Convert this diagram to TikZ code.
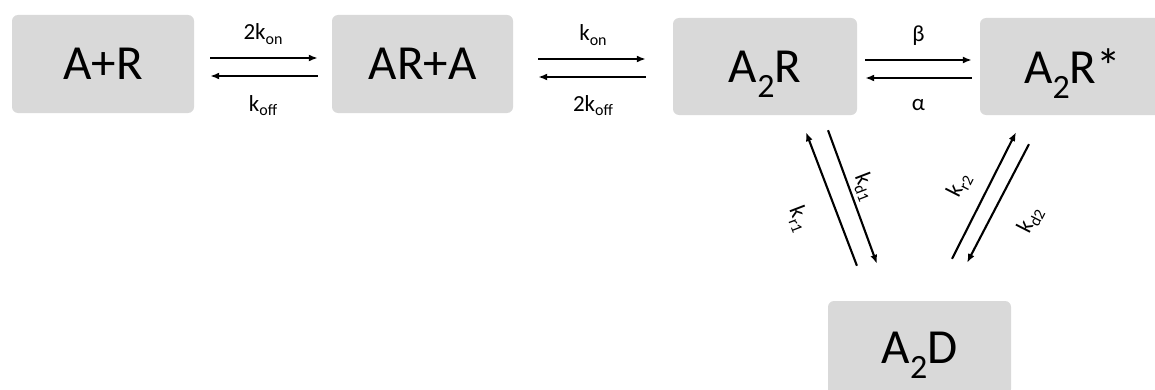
\documentclass[tikz,border=0pt]{standalone}
\usepackage{fontspec}
\setmainfont{Carlito}
\usetikzlibrary{arrows.meta}
\definecolor{boxgray}{HTML}{D9D9D9}
\newcommand{\bigsub}[1]{\raisebox{-15pt}[0pt][0pt]{\fontsize{34}{34}\selectfont #1}}
\newcommand{\lsub}[1]{\raisebox{-5pt}[0pt][0pt]{\fontsize{16}{16}\selectfont #1}}
\begin{document}
\begin{tikzpicture}[x=1pt,y=1pt,
  box/.style={fill=boxgray, rounded corners=6pt, inner sep=0pt, text=black,
    font=\fontsize{49}{49}\selectfont},
  lbl/.style={font=\fontsize{23}{23}\selectfont, inner sep=0pt, text=black},
  arr/.style={-{Latex[length=9pt,width=7pt]}, line width=2.1pt, black}]
\useasboundingbox (0,0) rectangle (1155,389);
% states
\node[box, minimum width=182pt, minimum height=98pt] (AR) at (103,325) {A+R};
\node[box, minimum width=181pt, minimum height=98pt] (ARA) at (422.5,325) {AR+A};
\node[box, minimum width=184pt, minimum height=97pt] (A2R) at (765,322.5) {A\bigsub{2}R};
\node[box, minimum width=185pt, minimum height=97pt] (A2Rs) at (1072.5,322.5) {A\bigsub{2}R*};
\node[box, minimum width=183pt, minimum height=94pt] (A2D) at (919.5,41) {A\bigsub{2}D};
% A+R <-> AR+A
\draw[arr, shorten <=16pt, shorten >=14pt] ([yshift=6pt]AR.east) -- ([yshift=6pt]ARA.west)
  node[lbl, pos=0.5, anchor=base, yshift=18pt] (l1) {2k\lsub{on}};
\draw[arr, shorten <=14pt, shorten >=16pt] ([yshift=-12pt]ARA.west) -- ([yshift=-12pt]AR.east)
  node[lbl, pos=0.5, anchor=base, yshift=-35pt] (l2) {k\lsub{off}};
% AR+A <-> A2R
\coordinate (m2) at (ARA.east -| A2R.west);
\draw[arr, shorten <=25pt, shorten >=27pt] ([yshift=5pt]ARA.east) -- ([yshift=5pt]m2)
  node[lbl, pos=0.5, anchor=base, yshift=18pt] (l3) {k\lsub{on}};
\draw[arr, shorten <=27pt, shorten >=25pt] ([yshift=-13pt]m2) -- ([yshift=-13pt]ARA.east)
  node[lbl, pos=0.5, anchor=base, yshift=-34pt] (l4) {2k\lsub{off}};
% A2R <-> A2R*
\draw[arr, shorten <=8pt, shorten >=8pt] ([yshift=6.5pt]A2R.east) -- ([yshift=6.5pt]A2Rs.west)
  node[lbl, pos=0.5, anchor=base, yshift=18pt] (l5) {β};
\draw[arr, shorten <=8pt, shorten >=8pt] ([yshift=-11.5pt]A2Rs.west) -- ([yshift=-11.5pt]A2R.east)
  node[lbl, pos=0.5, anchor=base, yshift=-32pt] (l6) {α};
% A2R <-> A2D
\draw[arr, shorten <=37.5pt, shorten >=18.2pt] ([xshift=-49.2pt]A2D.north) -- ([xshift=34.5pt]A2R.south);
\draw[arr, shorten <=16pt, shorten >=39.4pt] ([xshift=57.5pt]A2R.south) -- ([xshift=-29pt]A2D.north);
% A2R* <-> A2D
\draw[arr, shorten <=47pt, shorten >=19pt] ([xshift=11.3pt]A2D.north) -- ([xshift=-47.9pt]A2Rs.south);
\draw[arr, shorten <=32.7pt, shorten >=42.9pt] ([xshift=-28.4pt]A2Rs.south) -- ([xshift=27.7pt]A2D.north);
% rate labels on diagonals
\node[lbl, rotate=-69] (lr1) at (801,171) {k\lsub{r1}};
\node[lbl, rotate=-69] (ld1) at (867,203) {k\lsub{d1}};
\node[lbl, rotate=63] (lr2) at (957,205) {k\lsub{r2}};
\node[lbl, rotate=63] (ld2) at (1028,170) {k\lsub{d2}};
\end{tikzpicture}
\end{document}
